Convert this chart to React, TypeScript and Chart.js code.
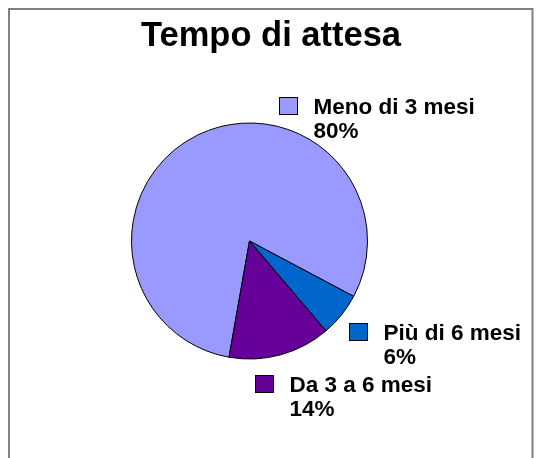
import React, { useEffect, useRef } from "react";
import { Chart, registerables } from "chart.js";

Chart.register(...registerables);

const TITLE = "Tempo di attesa";
const categories = ["Meno di 3 mesi", "Più di 6 mesi", "Da 3 a 6 mesi"];
const values = [80, 6, 14];
const percentLabels = ["80%", "6%", "14%"];
const colors = ["#9999FF", "#0066CC", "#660099"];
// label anchor offsets (in radius units, relative to pie centre)
const labelOffsets = [
  [0.253, -1.223],
  [0.846, 0.697],
  [0.047, 1.136],
];

const FONT = '"Liberation Sans", Arial, sans-serif';

const decorPlugin = {
  id: "decor",
  beforeDraw(chart: any) {
    const ctx = chart.ctx;
    ctx.save();
    ctx.fillStyle = "#ffffff";
    ctx.fillRect(0, 0, chart.width, chart.height);
    ctx.strokeStyle = "#808080";
    ctx.lineWidth = 2;
    ctx.beginPath();
    ctx.moveTo(9, chart.height + 5);
    ctx.lineTo(9, 9);
    ctx.lineTo(532.5, 9);
    ctx.lineTo(532.5, chart.height + 5);
    ctx.stroke();
    ctx.fillStyle = "#000";
    ctx.font = `bold 34.5px ${FONT}`;
    ctx.textAlign = "center";
    ctx.textBaseline = "alphabetic";
    ctx.fillText(TITLE, 271, 45.5);
    ctx.restore();
  },
  afterDraw(chart: any) {
    const ctx = chart.ctx;
    const meta = chart.getDatasetMeta(0);
    const arc = meta.data[0];
    const cx = arc.x;
    const cy = arc.y;
    const r = arc.outerRadius;
    ctx.save();
    ctx.font = `bold 22.5px ${FONT}`;
    ctx.textAlign = "left";
    ctx.textBaseline = "alphabetic";
    categories.forEach((cat, i) => {
      const sx = Math.round(cx + labelOffsets[i][0] * r) + 0.5;
      const sy = Math.round(cy + labelOffsets[i][1] * r) + 0.5;
      ctx.fillStyle = colors[i];
      ctx.fillRect(sx, sy, 18, 17);
      ctx.strokeStyle = "#000";
      ctx.lineWidth = 1;
      ctx.strokeRect(sx, sy, 18, 17);
      ctx.fillStyle = "#000";
      ctx.fillText(cat, sx + 34, sy + 16.8);
      ctx.fillText(percentLabels[i], sx + 34, sy + 40.5);
    });
    ctx.restore();
  },
};

export default function App() {
  const ref = useRef<HTMLCanvasElement>(null);
  useEffect(() => {
    if (!ref.current) return;
    const chart = new Chart(ref.current, {
      type: "pie",
      data: {
        labels: categories,
        datasets: [
          {
            data: values,
            backgroundColor: colors,
            borderColor: "#000000",
            borderWidth: 1,
            hoverOffset: 0,
          },
        ],
      },
      options: {
        animation: false,
        responsive: false,
        rotation: 190,
        layout: { padding: { left: 131, right: 175, top: 122, bottom: 98 } },
        plugins: {
          legend: { display: false },
          title: { display: false },
          tooltip: { enabled: false },
        },
      },
      plugins: [decorPlugin],
    });
    return () => chart.destroy();
  }, []);
  return (
    <div style={{ position: "fixed", left: 0, top: 0, width: 543, height: 458 }}>
      <canvas ref={ref} width={543} height={458} style={{ display: "block" }} />
    </div>
  );
}
